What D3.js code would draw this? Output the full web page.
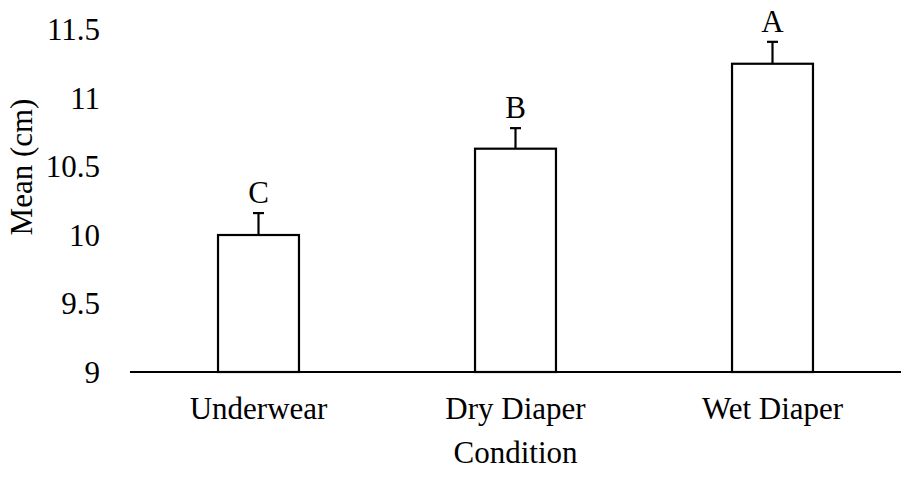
<!DOCTYPE html>
<html>
<head>
<meta charset="utf-8">
<script src="https://cdn.jsdelivr.net/npm/d3@7"></script>
<style>
html,body{margin:0;padding:0;background:#fff;}
svg text{font-family:"Liberation Serif","Times New Roman",serif !important;fill:#000;}
</style>
</head>
<body>
<svg id="chart" width="907" height="477" font-family="Liberation Serif"></svg>
<script>
const categories = ["Underwear", "Dry Diaper", "Wet Diaper"];
const means = [10.0, 10.63, 11.25];
const errors = [0.16, 0.15, 0.16];
const letters = ["C", "B", "A"];
const yTicks = [9, 9.5, 10, 10.5, 11, 11.5];

const FONT = "Liberation Serif";
const svg = d3.select("#chart");
const x = d3.scaleBand().domain(categories).range([130, 901]).padding(0);
const y = d3.scaleLinear().domain([9, 11.5]).range([372, 29.5]);
const barW = x.bandwidth() * 0.315;
const fs = 31;

// y tick labels
svg.append("g").selectAll("text").data(yTicks).join("text")
  .attr("x", 100).attr("y", d => y(d)).attr("dy", "0.35em")
  .attr("text-anchor", "end").attr("font-family", FONT).style("font-size", fs + "px")
  .text(d => d);

// bars
const cx = d => x(d) + x.bandwidth() / 2;
svg.append("g").selectAll("rect").data(categories).join("rect")
  .attr("x", d => cx(d) - barW / 2)
  .attr("y", (d, i) => y(means[i]))
  .attr("width", barW)
  .attr("height", (d, i) => y(9) - y(means[i]))
  .attr("fill", "#fff").attr("stroke", "#000").attr("stroke-width", 2.2);

// error bars
const eg = svg.append("g").attr("stroke", "#000").attr("stroke-width", 2.2);
categories.forEach((c, i) => {
  eg.append("line").attr("x1", cx(c)).attr("x2", cx(c))
    .attr("y1", y(means[i])).attr("y2", y(means[i] + errors[i]));
  eg.append("line").attr("x1", cx(c) - 5.5).attr("x2", cx(c) + 5.5)
    .attr("y1", y(means[i] + errors[i])).attr("y2", y(means[i] + errors[i]));
});

// letters
svg.append("g").selectAll("text").data(categories).join("text")
  .attr("x", d => cx(d)).attr("y", (d, i) => y(means[i] + errors[i]) - 10)
  .attr("text-anchor", "middle").attr("font-family", FONT).style("font-size", fs + "px")
  .text((d, i) => letters[i]);

// x axis
const xAxis = d3.axisBottom(x).tickSize(0).tickPadding(0);
const gx = svg.append("g").attr("transform", "translate(0,372)").call(xAxis)
  .attr("font-family", FONT);
gx.select(".domain").attr("stroke", "#000").attr("stroke-width", 2.2)
  .attr("d", "M130,0H901");
gx.selectAll("text").attr("dy", null).attr("y", 47)
  .style("font-size", fs + "px").attr("fill", "#000");

// axis titles
svg.append("text").attr("x", (130 + 901) / 2).attr("y", 463)
  .attr("text-anchor", "middle").attr("font-family", FONT).style("font-size", fs + "px").text("Condition");
svg.append("text").attr("transform", "translate(32,167) rotate(-90)")
  .attr("text-anchor", "middle").attr("font-family", FONT).style("font-size", fs + "px").text("Mean (cm)");
</script>
</body>
</html>
